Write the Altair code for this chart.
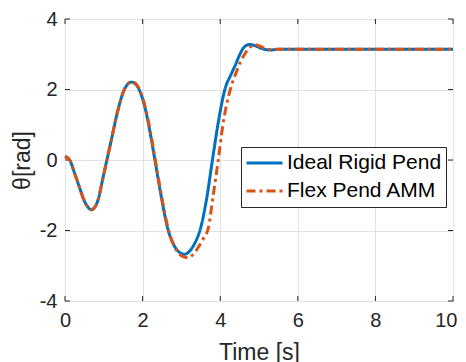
import altair as alt
import pandas as pd

# ---- data ----
series_names = ["Ideal Rigid Pend", "Flex Pend AMM"]
series_colors = ["#0072BD", "#D95319"]

t_rigid = [0, 0.12, 0.25, 0.38, 0.51, 0.60, 0.68, 0.76, 0.85, 0.98, 1.11, 1.20, 1.35, 1.51,
           1.60, 1.71, 1.82, 1.93, 2.08, 2.23, 2.31, 2.45, 2.65, 2.80, 2.95, 3.085, 3.20,
           3.35, 3.49, 3.65, 3.80, 3.94, 4.12, 4.29, 4.40, 4.50, 4.60, 4.76, 4.90, 5.05,
           5.28, 5.50, 6.0, 8.0, 10.0]
theta_rigid = [0.10, 0.0, -0.38, -0.80, -1.19, -1.35, -1.41, -1.35, -1.14, -0.50, 0.15, 0.60,
               1.35, 1.95, 2.13, 2.21, 2.15, 1.95, 1.40, 0.56, 0.05, -0.85, -1.95, -2.40,
               -2.62, -2.675, -2.60, -2.35, -1.95, -1.10, 0.0, 1.0, 2.0, 2.45, 2.72, 2.98,
               3.18, 3.28, 3.24, 3.17, 3.12, 3.14, 3.14, 3.14, 3.14]

t_flex = [0, 0.12, 0.25, 0.38, 0.51, 0.60, 0.68, 0.76, 0.85, 0.98, 1.11, 1.20, 1.35, 1.51,
          1.60, 1.72, 1.83, 1.94, 2.09, 2.24, 2.32, 2.46, 2.66, 2.82, 2.98, 3.10, 3.17,
          3.30, 3.45, 3.58, 3.69, 3.82, 3.95, 4.07, 4.26, 4.42, 4.53, 4.63, 4.75, 4.89,
          5.00, 5.15, 5.30, 5.50, 6.0, 8.0, 10.0]
theta_flex = [0.10, 0.0, -0.38, -0.80, -1.19, -1.35, -1.41, -1.35, -1.14, -0.50, 0.15, 0.60,
              1.35, 1.95, 2.14, 2.22, 2.16, 1.95, 1.40, 0.56, 0.05, -0.85, -1.95, -2.45,
              -2.70, -2.76, -2.77, -2.68, -2.45, -2.20, -1.95, -1.0, 0.0, 1.0, 2.0, 2.50,
              2.80, 3.0, 3.18, 3.27, 3.24, 3.17, 3.13, 3.14, 3.14, 3.14, 3.14]

x_ticks = [0, 2, 4, 6, 8, 10]
y_ticks = [-4, -2, 0, 2, 4]

W, H = 388, 282
FONT = "Liberation Sans"
AX = "#262626"

df = pd.concat([
    pd.DataFrame({"t": t_rigid, "theta": theta_rigid, "series": series_names[0]}),
    pd.DataFrame({"t": t_flex, "theta": theta_flex, "series": series_names[1]}),
], ignore_index=True)

xscale = alt.Scale(domain=[0, 10], nice=False, zero=False)
yscale = alt.Scale(domain=[-4, 4], nice=False, zero=False)

legend = alt.Legend(title=None, orient="none", legendX=176, legendY=128,
                    symbolType="stroke", symbolSize=1296,
                    symbolStrokeWidth=3, labelFontSize=21, labelFont=FONT,
                    labelColor="#000000", labelOffset=3, labelLimit=400,
                    clipHeight=24, rowPadding=4, padding=4, fillColor="white",
                    strokeColor=AX, cornerRadius=0)
color = alt.Color("series:N",
                  scale=alt.Scale(domain=series_names, range=series_colors),
                  legend=legend)
dash = alt.StrokeDash("series:N",
                      scale=alt.Scale(domain=series_names, range=[[1, 0], [9, 4, 3, 4]]),
                      legend=legend)

xaxis = alt.Axis(values=x_ticks, title="Time [s]", grid=True, ticks=False, tickSize=0,
                 domain=False, labelPadding=9, titlePadding=11, labelFontSize=20,
                 titleFontSize=23, titleFontWeight="normal", labelFont=FONT, titleFont=FONT,
                 labelColor=AX, titleColor=AX, gridColor="#e2e2e2", labelFlush=False,
                 labelAlign={"condition": {"test": "datum.value == 10", "value": "right"},
                             "value": "center"},
                 labelOffset={"condition": {"test": "datum.value == 10", "value": 4},
                              "value": 0},
                 labelExpr="datum.value + ''")
yaxis = alt.Axis(values=y_ticks, title="θ[rad]", grid=True, ticks=False, tickSize=0,
                 domain=False, labelPadding=8, titlePadding=5, labelFontSize=20,
                 titleFontSize=23, titleFontWeight="normal", labelFont=FONT, titleFont=FONT,
                 labelColor=AX, titleColor=AX, gridColor="#e2e2e2", labelFlush=False,
                 labelExpr="datum.value + ''")

rigid = alt.Chart(df).transform_filter(alt.datum.series == series_names[0]).mark_line(
    strokeWidth=3, interpolate="monotone").encode(
    x=alt.X("t:Q", scale=xscale, axis=xaxis),
    y=alt.Y("theta:Q", scale=yscale, axis=yaxis),
    color=color, strokeDash=dash)

flex = alt.Chart(df).transform_filter(alt.datum.series == series_names[1]).mark_line(
    strokeWidth=3, interpolate="monotone").encode(
    x=alt.X("t:Q", scale=xscale), y=alt.Y("theta:Q", scale=yscale),
    color=color, strokeDash=dash)

xt = pd.DataFrame({"xv": x_ticks})
yt = pd.DataFrame({"yv": y_ticks})
tick_style = dict(color=AX, strokeWidth=1)
xt_bottom = alt.Chart(xt).mark_rule(**tick_style).encode(
    x=alt.X("xv:Q", scale=xscale), y=alt.value(H), y2=alt.value(H - 5))
xt_top = alt.Chart(xt).mark_rule(**tick_style).encode(
    x=alt.X("xv:Q", scale=xscale), y=alt.value(0), y2=alt.value(5))
yt_left = alt.Chart(yt).mark_rule(**tick_style).encode(
    y=alt.Y("yv:Q", scale=yscale), x=alt.value(0), x2=alt.value(5))
yt_right = alt.Chart(yt).mark_rule(**tick_style).encode(
    y=alt.Y("yv:Q", scale=yscale), x=alt.value(W), x2=alt.value(W - 5))

chart = alt.layer(xt_bottom, xt_top, yt_left, yt_right, rigid, flex).properties(
    width=W, height=H,
    autosize=alt.AutoSizeParams(type="none"),
    padding={"left": 57, "top": 11, "right": 5, "bottom": 70},
    background="white",
).configure_view(stroke=AX, strokeWidth=1)

chart.save("out.html", embed_options={"renderer": "svg", "actions": False})
